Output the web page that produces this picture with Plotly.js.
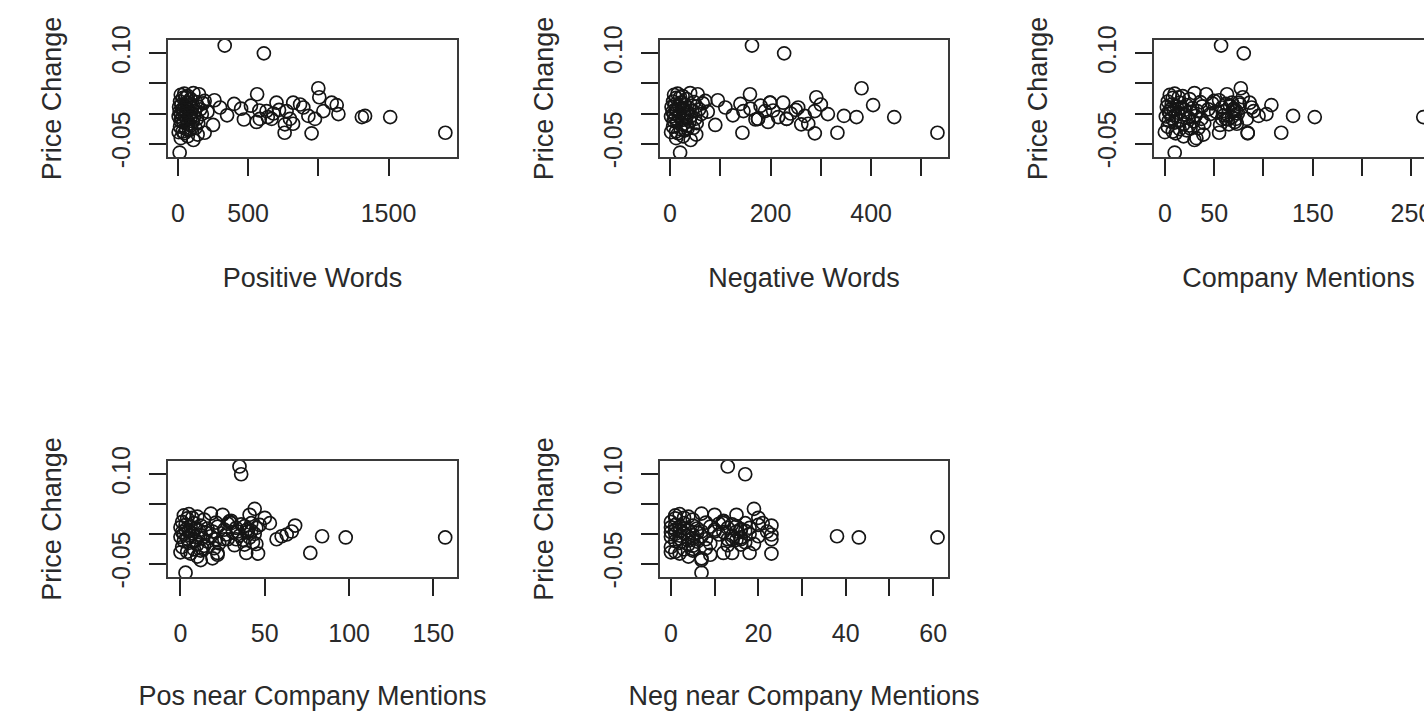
<!DOCTYPE html>
<html>
<head>
<meta charset="utf-8">
<script src="https://cdn.plot.ly/plotly-3.0.1.min.js"></script>
<style>
  html, body { margin: 0; padding: 0; background: #fff; overflow: hidden; width: 1424px; height: 711px; }
  #chart { width: 1500px; height: 711px; }
</style>
</head>
<body>
<div id="chart"></div>
<script>
// ---- Data ----
// Shared response variable
const priceChange = [
  0.113, 0.100, -0.065, 0.042, -0.032, -0.006, -0.006, -0.004, 0.014, -0.001,
  -0.033, -0.032, 0.027, 0.018, 0.004, -0.009, -0.004, 0.010, 0.018, -0.018,
  0.004, -0.009, 0.018, -0.009, 0.004, -0.009, 0.032, -0.032,
  0.033, 0.031, 0.034, 0.029, 0.032, 0.026, 0.024, 0.022, 0.020, 0.019,
  0.018, 0.017, 0.016, 0.015, 0.014, 0.013, 0.012, 0.012, 0.011, 0.010,
  0.009, 0.009, 0.008, 0.007, 0.007, 0.006, 0.005, 0.005, 0.004, 0.003,
  0.003, 0.002, 0.001, 0.000, 0.000, -0.001, -0.002, -0.003, -0.003, -0.004,
  -0.005, -0.006, -0.007, -0.008, -0.009, -0.010, -0.011, -0.012, -0.013, -0.014,
  -0.015, -0.016, -0.018, -0.019, -0.020, -0.022, -0.024, -0.026, -0.028, -0.030,
  -0.031, -0.033, -0.035, -0.038, -0.041, -0.044, 0.021, 0.027, -0.017, 0.015,
  0.006, -0.025
];
const positiveWords = [
  333, 612, 12, 1000, 1905, 1512, 1310, 1333, 1131, 1143,
  952, 760, 1007, 1095, 1036, 976, 929, 893, 821, 762,
  774, 798, 702, 667, 631, 583, 564, 190,
  45, 20, 110, 70, 150, 35, 90, 260, 15, 130,
  60, 180, 400, 25, 85, 520, 50, 140, 8, 300,
  100, 65, 450, 30, 160, 75, 580, 40, 120, 12,
  210, 95, 55, 680, 22, 170, 80, 350, 48, 115,
  5, 640, 88, 28, 135, 470, 62, 18, 105, 560,
  38, 145, 72, 250, 92, 15, 125, 58, 80, 33,
  5, 45, 140, 70, 20, 110, 190, 55, 820, 870,
  720, 95
];
const negativeWords = [
  163, 227, 20, 381, 532, 446, 371, 346, 404, 314,
  288, 333, 291, 225, 288, 232, 268, 255, 199, 261,
  189, 175, 199, 232, 146, 175, 159, 144,
  15, 8, 40, 25, 55, 12, 33, 95, 6, 48,
  22, 65, 140, 10, 30, 180, 18, 52, 3, 110,
  38, 24, 160, 11, 58, 27, 205, 14, 44, 5,
  75, 35, 20, 240, 8, 62, 29, 125, 17, 42,
  2, 215, 32, 10, 50, 170, 23, 7, 39, 195,
  14, 53, 26, 90, 34, 6, 46, 21, 30, 12,
  2, 16, 52, 26, 12, 41, 70, 20, 275, 300,
  250, 35
];
const companyMentions = [
  57, 80, 10, 77, 118, 262, 152, 130, 108, 103,
  84, 84, 79, 86, 90, 83, 95, 88, 75, 65,
  70, 72, 68, 62, 60, 58, 63, 55,
  10, 5, 30, 18, 42, 8, 25, 55, 3, 36,
  15, 48, 62, 7, 22, 66, 12, 38, 2, 58,
  28, 17, 70, 6, 44, 20, 72, 9, 33, 4,
  52, 26, 14, 74, 5, 46, 21, 60, 11, 31,
  1, 68, 24, 7, 37, 64, 16, 4, 29, 71,
  10, 40, 19, 56, 25, 3, 34, 15, 22, 8,
  0, 11, 39, 19, 32, 30, 50, 14, 73, 76,
  69, 26
];
const posNearCompany = [
  35, 36, 3, 44, 77, 157, 98, 84, 68, 63,
  46, 39, 50, 53, 66, 57, 60, 45, 42, 38,
  40, 33, 30, 28, 34, 26, 41, 22,
  5, 2, 18, 10, 25, 4, 14, 30, 1, 21,
  8, 28, 36, 3, 12, 38, 6, 22, 0, 33,
  16, 9, 40, 3, 26, 11, 42, 5, 19, 1,
  31, 15, 7, 44, 2, 27, 12, 35, 6, 18,
  0, 41, 13, 4, 21, 37, 9, 2, 16, 43,
  5, 23, 10, 32, 14, 1, 20, 8, 12, 4,
  0, 6, 22, 10, 19, 12, 29, 7, 45, 47,
  39, 13
];
const negNearCompany = [
  13, 17, 7, 19, 18, 61, 43, 38, 23, 23,
  23, 14, 20, 21, 22, 23, 20, 18, 17, 16,
  15, 14, 12, 16, 10, 13, 15, 12,
  2, 1, 7, 4, 10, 1, 5, 12, 0, 8,
  3, 11, 14, 1, 5, 15, 2, 9, 0, 13,
  6, 3, 16, 1, 10, 4, 17, 2, 7, 0,
  12, 6, 3, 18, 1, 11, 5, 14, 2, 7,
  0, 16, 5, 2, 8, 15, 4, 1, 6, 17,
  2, 9, 4, 13, 5, 0, 8, 3, 5, 1,
  0, 2, 9, 4, 7, 7, 12, 3, 19, 20,
  16, 5
];

const panelTitles = ["Positive Words", "Negative Words", "Company Mentions",
                     "Pos near Company Mentions", "Neg near Company Mentions"];
const yTitle = "Price Change";

const xTickVals = [
  [0, 500, 1000, 1500],
  [0, 100, 200, 300, 400, 500],
  [0, 50, 100, 150, 200, 250],
  [0, 50, 100, 150],
  [0, 10, 20, 30, 40, 50, 60]
];
const xTickText = [
  ["0", "500", "", "1500"],
  ["0", "", "200", "", "400", ""],
  ["0", "50", "", "150", "", "250"],
  ["0", "50", "100", "150"],
  ["0", "", "20", "", "40", "", "60"]
];
const yTickVals = [-0.05, 0, 0.05, 0.10];
const yTickText = ["-0.05", "", "", "0.10"];

// ---- Layout constants ----
const FIG_W = 1500, FIG_H = 711;
const xRanges = [[-71, 1988], [-20, 553], [-11, 282], [-7.4, 164], [-2.5, 63.4]];
const yRange = [-0.0723, 0.1222];
// plot-box pixel positions [left, right], [top, bottom]
const colPx = [[168, 457], [660, 948], [1154, 1443]];
const rowPx = [[40, 157], [461, 577]];
const cells = [[0, 0], [1, 0], [2, 0], [0, 1], [1, 1]];

const FONT = "Liberation Sans, Arial, Helvetica, sans-serif";
const TXT = "#2a2a2a";

const xSeries = [positiveWords, negativeWords, companyMentions, posNearCompany, negNearCompany];

const traces = [];
const layout = {
  width: FIG_W, height: FIG_H,
  margin: {l: 0, r: 0, t: 0, b: 0},
  paper_bgcolor: "#fff", plot_bgcolor: "#fff",
  showlegend: false,
  font: {family: FONT, color: TXT, size: 25}
};

cells.forEach((cell, i) => {
  const n = i + 1;
  const xa = n === 1 ? "x" : "x" + n;
  const ya = n === 1 ? "y" : "y" + n;
  const [c, r] = cell;
  traces.push({
    type: "scatter", mode: "markers",
    x: xSeries[i], y: priceChange,
    xaxis: xa, yaxis: ya,
    marker: {symbol: "circle-open", size: 13, color: "#151515", line: {width: 1.7, color: "#151515"}},
    hoverinfo: "x+y"
  });
  const common = {
    showgrid: false, zeroline: false,
    showline: true, mirror: true, linecolor: "#3a3a3a", linewidth: 2,
    ticks: "outside", ticklen: 17, tickwidth: 1.6, tickcolor: "#222",
    tickfont: {family: FONT, size: 25, color: TXT},
    fixedrange: true
  };
  layout["xaxis" + (n === 1 ? "" : n)] = Object.assign({}, common, {
    domain: [colPx[c][0] / FIG_W, colPx[c][1] / FIG_W],
    anchor: ya, range: xRanges[i],
    tickmode: "array", tickvals: xTickVals[i], ticktext: xTickText[i],
    ticklabelstandoff: 16,
    title: {text: panelTitles[i], font: {family: FONT, size: 27, color: TXT}, standoff: 42}
  });
  layout["yaxis" + (n === 1 ? "" : n)] = Object.assign({}, common, {
    domain: [1 - rowPx[r][1] / FIG_H, 1 - rowPx[r][0] / FIG_H],
    anchor: xa, range: yRange,
    tickmode: "array", tickvals: yTickVals, ticktext: yTickText,
    tickangle: -90, ticklabelstandoff: 9,
    title: {text: yTitle, font: {family: FONT, size: 27, color: TXT}, standoff: 38}
  });
});

Plotly.newPlot("chart", traces, layout, {displayModeBar: false, responsive: false, staticPlot: false});
</script>
</body>
</html>
